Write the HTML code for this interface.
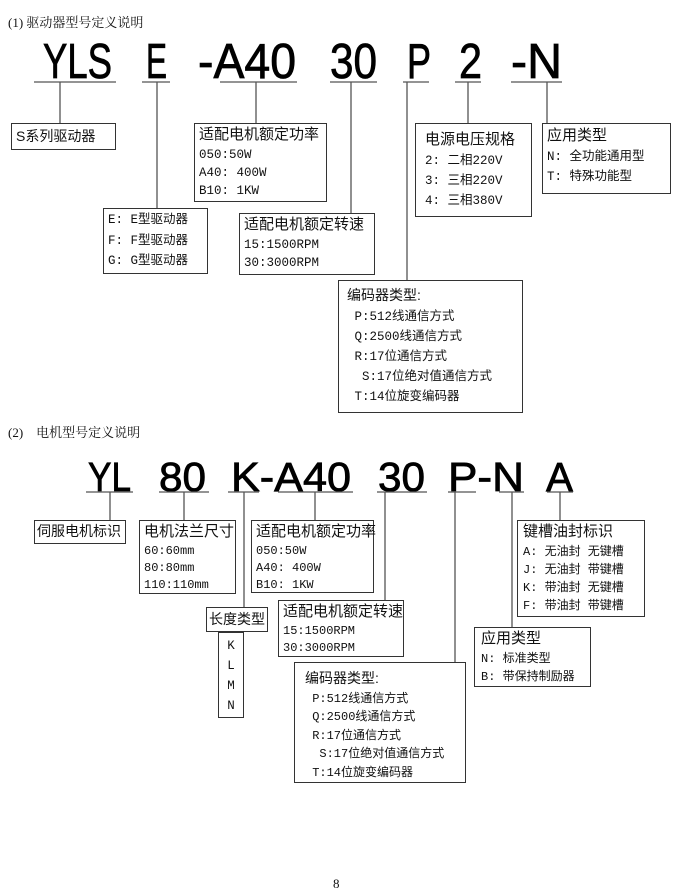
<!DOCTYPE html>
<html><head><meta charset="utf-8">
<style>
body{margin:0;background:#fff;}
#p{position:relative;width:673px;height:895px;overflow:hidden;font-family:"Liberation Serif","Noto Serif CJK SC","WenQuanYi Zen Hei",serif;color:#111;}
.b{position:absolute;border:1.5px solid #333;box-sizing:border-box;background:#fff;font-size:12.5px;line-height:20px;padding:0 0 0 4px;white-space:nowrap;font-family:"Liberation Mono","WenQuanYi Zen Hei",monospace;}
.b h{display:block;font-size:15px;font-family:"Liberation Sans","WenQuanYi Zen Hei",sans-serif;line-height:22px;}
.s2{line-height:17px;font-size:12px;}
.s2 h{line-height:22px;}
.t{position:absolute;font-size:13px;font-family:"Liberation Serif","Noto Serif CJK SC",serif;}
svg{position:absolute;left:0;top:0;}
</style></head><body><div id="p">
<div class="t" style="left:8px;top:12px">(1) 驱动器型号定义说明</div>
<div class="t" style="left:8px;top:422px">(2)&nbsp;&nbsp;&nbsp; 电机型号定义说明</div>
<div class="t" style="left:333px;top:876px">8</div>
<svg width="673" height="895">
<g font-family="Liberation Sans, sans-serif" fill="#000" stroke="#000" stroke-width="0.8" font-size="49">
<text x="43" y="78" textLength="69" lengthAdjust="spacingAndGlyphs">YLS</text>
<text x="146" y="78" textLength="21" lengthAdjust="spacingAndGlyphs">E</text>
<text x="198" y="78" textLength="98" lengthAdjust="spacingAndGlyphs">-A40</text>
<text x="330" y="78" textLength="47" lengthAdjust="spacingAndGlyphs">30</text>
<text x="407" y="78" textLength="24" lengthAdjust="spacingAndGlyphs">P</text>
<text x="459" y="78" textLength="23" lengthAdjust="spacingAndGlyphs">2</text>
<text x="511" y="78" textLength="51" lengthAdjust="spacingAndGlyphs">-N</text>
</g>
<g font-family="Liberation Sans, sans-serif" fill="#000" stroke="#000" stroke-width="0.8" font-size="41">
<text x="88" y="491" textLength="43" lengthAdjust="spacingAndGlyphs">YL</text>
<text x="159" y="491" textLength="47" lengthAdjust="spacingAndGlyphs">80</text>
<text x="231" y="491" textLength="120" lengthAdjust="spacingAndGlyphs">K-A40</text>
<text x="378" y="491" textLength="47" lengthAdjust="spacingAndGlyphs">30</text>
<text x="448" y="491" textLength="76" lengthAdjust="spacingAndGlyphs">P-N</text>
<text x="546" y="491" textLength="27" lengthAdjust="spacingAndGlyphs">A</text>
</g>
<g stroke="#555" stroke-width="1.3" fill="none">
<path d="M34 82H116M142 82H170M220 82H297M330 82H377M403 82H429M455 82H481M511 82H562"/>
<path d="M60 82V123M157 82V208M256 82V123M351 82V213M407 82V283M468 82V123M547 82V123"/>
<path d="M86 492H133M159 492H209M228 492H259M278 492H353M377 492H427M448 492H476M499 492H524M547 492H573"/>
<path d="M110 492V520M184 492V520M244 492V607M315 492V520M385 492V600M455 492V662M512 492V627M560 492V520"/>
</g>
</svg>

<div class="b" style="left:11px;top:123px;width:105px;height:27px;font-family:'Liberation Sans','WenQuanYi Zen Hei',sans-serif;font-size:14px;line-height:24px;">S系列驱动器</div>
<div class="b" style="left:103px;top:208px;width:105px;height:66px;line-height:20.5px;padding-top:1px">E: E型驱动器<br>F: F型驱动器<br>G: G型驱动器</div>
<div class="b" style="left:194px;top:123px;width:133px;height:79px;line-height:18px"><h>适配电机额定功率</h>050:50W<br>A40: 400W<br>B10: 1KW</div>
<div class="b" style="left:239px;top:213px;width:136px;height:62px;line-height:18px"><h>适配电机额定转速</h>15:1500RPM<br>30:3000RPM</div>
<div class="b" style="left:338px;top:280px;width:185px;height:133px;padding:4px 0 0 8px;line-height:20px"><span style="font-family:'Liberation Sans','WenQuanYi Zen Hei',sans-serif;font-size:14px">编码器类型:</span><br>&nbsp;P:512线通信方式<br>&nbsp;Q:2500线通信方式<br>&nbsp;R:17位通信方式<br>&nbsp;&nbsp;S:17位绝对值通信方式<br>&nbsp;T:14位旋变编码器</div>
<div class="b" style="left:415px;top:123px;width:117px;height:94px;padding:5px 0 0 9px;line-height:20px"><h>电源电压规格</h>2:&nbsp;二相220V<br>3:&nbsp;三相220V<br>4:&nbsp;三相380V</div>
<div class="b" style="left:542px;top:123px;width:129px;height:71px;padding:1px 0 0 4px;line-height:20px"><h>应用类型</h>N:&nbsp;全功能通用型<br>T:&nbsp;特殊功能型</div>

<div class="b" style="left:34px;top:520px;width:92px;height:24px;font-family:'Liberation Sans','WenQuanYi Zen Hei',sans-serif;font-size:14px;line-height:21px;padding-left:2px">伺服电机标识</div>
<div class="b s2" style="left:139px;top:520px;width:97px;height:74px"><h>电机法兰尺寸</h>60:60mm<br>80:80mm<br>110:110mm</div>
<div class="b s2" style="left:251px;top:520px;width:123px;height:73px"><h>适配电机额定功率</h>050:50W<br>A40: 400W<br>B10: 1KW</div>
<div class="b" style="left:206px;top:607px;width:62px;height:25px;font-family:'Liberation Sans','WenQuanYi Zen Hei',sans-serif;font-size:14px;line-height:22px;padding-left:2px">长度类型</div>
<div class="b" style="left:218px;top:632px;width:26px;height:86px;text-align:center;padding:3px 0 0 0;line-height:20px">K<br>L<br>M<br>N</div>
<div class="b s2" style="left:278px;top:600px;width:126px;height:57px"><h>适配电机额定转速</h>15:1500RPM<br>30:3000RPM</div>
<div class="b s2" style="left:294px;top:662px;width:172px;height:121px;padding:6px 0 0 10px;line-height:18.5px"><span style="font-family:'Liberation Sans','WenQuanYi Zen Hei',sans-serif;font-size:14px">编码器类型:</span><br>&nbsp;P:512线通信方式<br>&nbsp;Q:2500线通信方式<br>&nbsp;R:17位通信方式<br>&nbsp;&nbsp;S:17位绝对值通信方式<br>&nbsp;T:14位旋变编码器</div>
<div class="b s2" style="left:474px;top:627px;width:117px;height:60px;padding-left:6px;line-height:18px"><h>应用类型</h>N:&nbsp;标准类型<br>B:&nbsp;带保持制励器</div>
<div class="b s2" style="left:517px;top:520px;width:128px;height:97px;padding-left:5px;line-height:18px"><h>键槽油封标识</h>A:&nbsp;无油封 无键槽<br>J:&nbsp;无油封 带键槽<br>K:&nbsp;带油封 无键槽<br>F:&nbsp;带油封 带键槽</div>
</div></body></html>
